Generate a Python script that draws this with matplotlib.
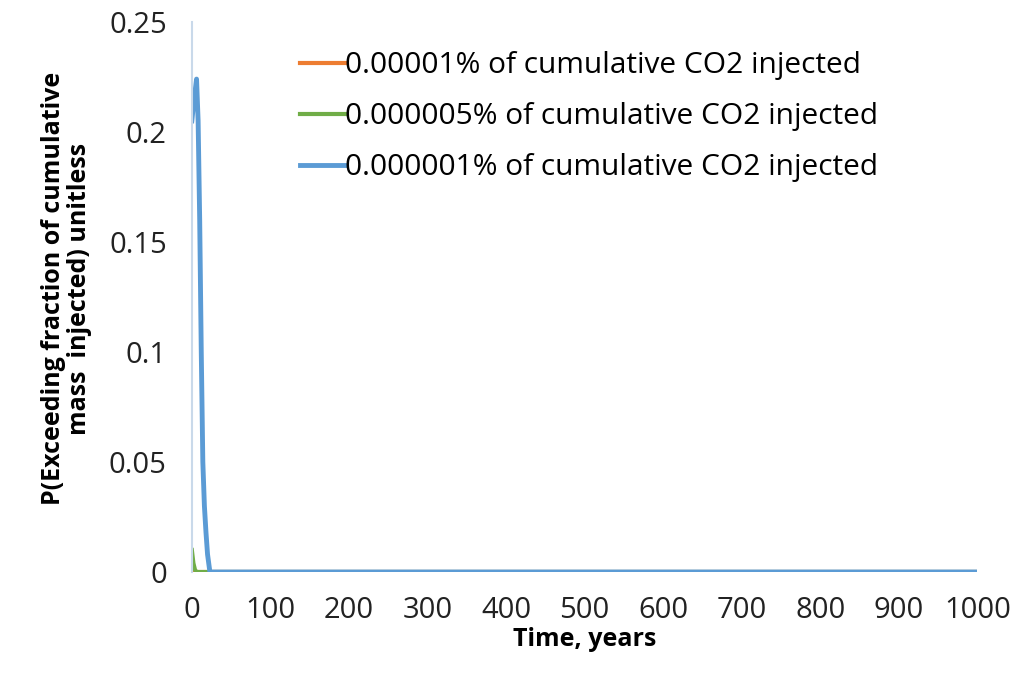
import matplotlib
matplotlib.use("Agg")
import matplotlib.pyplot as plt

# years and exceedance probabilities
years = [0, 2, 4, 6, 8, 10, 12, 14, 16, 18, 20, 23, 30, 1000]
p_1e5 = [0.002, 0.001, 0, 0, 0, 0, 0, 0, 0, 0, 0, 0, 0, 0]
p_5e6 = [0.01, 0.004, 0.001, 0, 0, 0, 0, 0, 0, 0, 0, 0, 0, 0]
p_1e6 = [0.205, 0.212, 0.218, 0.224, 0.205, 0.16, 0.1, 0.05, 0.03, 0.018, 0.008, 0, 0, 0]

labels = ["0.00001% of cumulative CO2 injected",
          "0.000005% of cumulative CO2 injected",
          "0.000001% of cumulative CO2 injected"]
xticks = list(range(0, 1001, 100))
yticks = [0, 0.05, 0.1, 0.15, 0.2, 0.25]
ytick_labels = ["0", "0.05", "0.1", "0.15", "0.2", "0.25"]

plt.rcParams['font.family'] = ['Open Sans', 'DejaVu Sans']

fig = plt.figure(figsize=(10.15, 6.83), dpi=100)
ax = fig.add_axes([0.189, 0.1625, 0.774, 0.8055])

ax.plot(years, p_1e5, color="#ed7d31", lw=3, label=labels[0])
ax.plot(years, p_5e6, color="#70ad47", lw=3, label=labels[1])
ax.plot(years, p_1e6, color="#5b9bd5", lw=3.5, label=labels[2])

ax.set_xlim(0, 1000)
ax.set_ylim(0, 0.25)
ax.set_xticks(xticks)
ax.set_yticks(yticks)
ax.set_yticklabels(ytick_labels)
ax.tick_params(length=0, labelsize=21, colors="#222222")
ax.tick_params(axis="y", pad=18)
ax.tick_params(axis="x", pad=17)
for s in ["top", "right", "bottom"]:
    ax.spines[s].set_visible(False)
ax.spines["left"].set_color("#c9d9ea")
ax.spines["left"].set_linewidth(1.5)

ax.set_xlabel("Time, years", fontsize=18, fontweight="bold", labelpad=2)
ax.set_ylabel("P(Exceeding fraction of cumulative\nmass  injected) unitless",
              fontsize=18, fontweight="bold", labelpad=12, linespacing=1.05)
ax.yaxis.label.set_y(0.515)

ax.legend(loc="upper left", bbox_to_anchor=(0.111, 0.985), frameon=False,
          fontsize=21.5, handlelength=1.5, handletextpad=0.0,
          labelspacing=0.74, borderaxespad=0.3)

fig.savefig("out.png", dpi=100)
